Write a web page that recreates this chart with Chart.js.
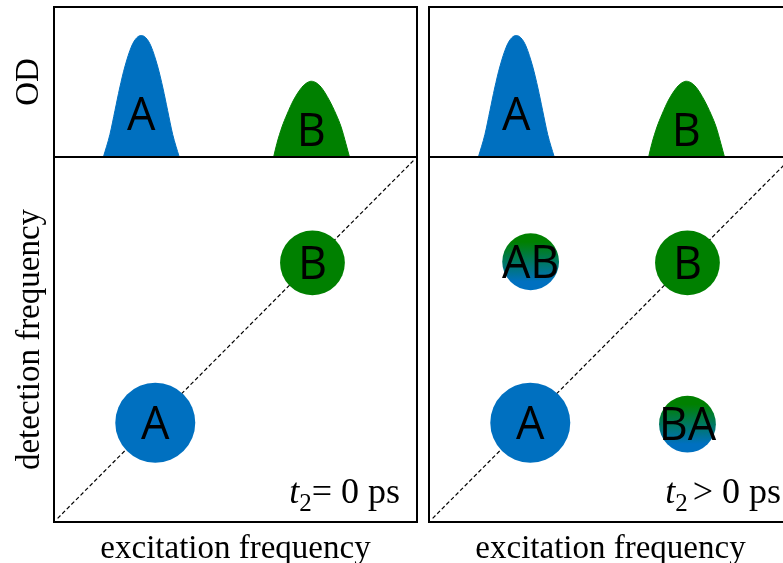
<!DOCTYPE html>
<html>
<head>
<meta charset="utf-8">
<script src="https://cdn.jsdelivr.net/npm/chart.js@4.4.1/dist/chart.umd.min.js"></script>
<style>
  html, body { margin: 0; padding: 0; background: #fff; overflow: hidden; width: 783px; height: 563px; }
  .box { position: absolute; }
</style>
</head>
<body>
<div class="box" style="left:0;top:0;width:425px;height:162px"><canvas id="odLeft"></canvas></div>
<div class="box" style="left:0;top:150px;width:425px;height:430px"><canvas id="mapLeft"></canvas></div>
<div class="box" style="left:420px;top:0;width:380px;height:162px"><canvas id="odRight"></canvas></div>
<div class="box" style="left:420px;top:150px;width:380px;height:430px"><canvas id="mapRight"></canvas></div>
<script>
// ---- linear absorption (OD) spectra: excitation frequency vs OD ----
const peakNames = ['A', 'B'];
const odAx = [13.6, 15.4, 16.8, 18.1, 19.5, 21.4, 22.8, 24.05, 25.3, 26.7, 28.6, 30.0, 31.3, 32.7, 34.5];
const odAy = [0, 0.15, 0.31, 0.46, 0.60, 0.74, 0.795, 0.81, 0.795, 0.74, 0.60, 0.46, 0.31, 0.15, 0];
const odBx = [60.5, 61.4, 62.8, 64.2, 66.0, 68.3, 69.7, 70.9, 72.2, 73.6, 75.8, 77.7, 79.1, 80.4, 81.4];
const odBy = [0, 0.09, 0.20, 0.285, 0.38, 0.465, 0.495, 0.505, 0.495, 0.465, 0.38, 0.285, 0.20, 0.09, 0];

// ---- 2D spectra: diagonal peaks (excitation, detection, relative amplitude) ----
const diagNames = ['A', 'B'];
const diagExc = [27.9, 71.2];
const diagDet = [27.2, 71.0];
const diagAmp = [1.0, 0.81];

// ---- cross peaks that grow in at t2 > 0 ----
const crossNames = ['AB', 'BA'];
const crossExc = [28.0, 71.2];
const crossDet = [71.3, 26.8];
const crossAmp = [0.71, 0.71];

// diagonal reference line (excitation = detection)
const diagonalLine = [1, 99];

// waiting time t2 for the two panels: relation and value
const delayRelation = ['=', '>'];
const delayValue = ['0 ps', '0 ps'];

const BLUE = '#0070C0';
const GREEN = '#008000';
const peakColors = { A: BLUE, B: GREEN };
const RADIUS_PX = 40;       // bubble radius for amplitude 1
const SERIF = "'Liberation Serif', 'Times New Roman', serif";
const SANS = "'Open Sans', 'Noto Sans', sans-serif";
const TITLE_FONT = { family: SERIF, size: 33 };

// black frame round each plot area
const framePlugin = {
  id: 'frame',
  afterDraw(chart) {
    const { ctx, chartArea: a } = chart;
    ctx.save();
    ctx.strokeStyle = '#000';
    ctx.lineWidth = 2;
    ctx.strokeRect(a.left, a.top, a.right - a.left, a.bottom - a.top);
    ctx.restore();
  }
};

// letter inside each OD band, placed at a fraction of the band height
const bandLabelPlugin = {
  id: 'bandLabels',
  afterDatasetsDraw(chart) {
    const { ctx, scales } = chart;
    ctx.save();
    ctx.fillStyle = '#000';
    ctx.font = '45px ' + SANS;
    ctx.textAlign = 'center';
    ctx.textBaseline = 'alphabetic';
    chart.data.datasets.forEach(ds => {
      let top = ds.data[0];
      ds.data.forEach(p => { if (p.y > top.y) top = p; });
      const x = scales.x.getPixelForValue(top.x);
      const y = scales.y.getPixelForValue(top.y * 0.35);
      ctx.fillText(ds.label, x, y + 16);
    });
    ctx.restore();
  }
};

// names written on top of each 2D peak
const peakLabelPlugin = {
  id: 'peakLabels',
  afterDatasetsDraw(chart) {
    const { ctx } = chart;
    ctx.save();
    ctx.fillStyle = '#000';
    ctx.font = '45px ' + SANS;
    ctx.textAlign = 'center';
    ctx.textBaseline = 'alphabetic';
    chart.data.datasets.forEach((ds, i) => {
      if (ds.type === 'line') return;
      chart.getDatasetMeta(i).data.forEach(el => {
        ctx.fillText(ds.label, el.x, el.y + 16);
      });
    });
    ctx.restore();
  }
};

// "t2 = 0 ps" style waiting-time label in the lower right corner
const delayPlugin = {
  id: 'delay',
  afterDraw(chart, args, opts) {
    const { ctx, chartArea: a } = chart;
    const main = '36px ' + SERIF, ital = 'italic 36px ' + SERIF, sub = '25px ' + SERIF;
    ctx.save();
    ctx.fillStyle = '#000';
    ctx.textBaseline = 'alphabetic';
    ctx.font = ital; const wT = ctx.measureText('t').width;
    ctx.font = sub; const w2 = ctx.measureText('2').width;
    ctx.font = main;
    const rest = opts.relation + ' ' + opts.value;
    const wRest = ctx.measureText(rest).width;
    const lead = opts.relation === '=' ? 0 : 5;
    let x = a.right - opts.inset - (wT + w2 + lead + wRest);
    const y = a.bottom - 19;
    ctx.font = ital; ctx.fillText('t', x, y); x += wT;
    ctx.font = sub; ctx.fillText('2', x, y + 8); x += w2 + lead;
    ctx.font = main; ctx.fillText(rest, x, y);
    ctx.restore();
  }
};

function toPoints(xs, ys) { return xs.map((x, i) => ({ x, y: ys[i] })); }

function hiddenAxis(extra) {
  return Object.assign({
    type: 'linear',
    ticks: { display: false },
    grid: { display: false },
    border: { display: false }
  }, extra);
}

const baseOptions = {
  responsive: true,
  maintainAspectRatio: false,
  animation: false,
  events: [],
  devicePixelRatio: 1
};

function odChart(id, withTitle, padLeft) {
  return new Chart(document.getElementById(id), {
    type: 'line',
    data: {
      datasets: [
        { label: peakNames[0], data: toPoints(odAx, odAy) },
        { label: peakNames[1], data: toPoints(odBx, odBy) }
      ].map(ds => Object.assign(ds, {
        backgroundColor: peakColors[ds.label],
        borderColor: peakColors[ds.label],
        borderWidth: 1,
        fill: 'origin',
        pointRadius: 0,
        cubicInterpolationMode: 'monotone'
      }))
    },
    options: Object.assign({}, baseOptions, {
      layout: { autoPadding: false, padding: { left: padLeft, top: 7, right: 8, bottom: 5 } },
      plugins: { legend: { display: false }, tooltip: { enabled: false } },
      scales: {
        x: hiddenAxis({ display: false, min: 0, max: 100 }),
        y: withTitle
          ? hiddenAxis({
              min: 0, max: 1,
              title: { display: true, text: 'OD', color: '#000', font: TITLE_FONT, padding: { top: 10, bottom: 0 } },
              afterFit: s => { s.width = 54; }
            })
          : hiddenAxis({ display: false, min: 0, max: 1 })
      }
    }),
    plugins: [bandLabelPlugin, framePlugin]
  });
}

// cross peaks blend from green (top) into blue (bottom)
function crossFill(c) {
  const raw = c.raw;
  const sy = c.chart.scales && c.chart.scales.y;
  if (!raw || !sy) return BLUE;
  const cy = sy.getPixelForValue(raw.y);
  if (!isFinite(cy) || !isFinite(raw.r)) return BLUE;
  const g = c.chart.ctx.createLinearGradient(0, cy - raw.r, 0, cy + raw.r);
  g.addColorStop(0.15, GREEN);
  g.addColorStop(0.85, BLUE);
  return g;
}

function mapChart(id, withTitle, padLeft, showCross, panel, inset) {
  const datasets = [];
  diagNames.forEach((n, i) => datasets.push({
    label: n,
    data: [{ x: diagExc[i], y: diagDet[i], r: diagAmp[i] * RADIUS_PX }],
    backgroundColor: peakColors[n],
    borderWidth: 0,
    order: 1
  }));
  if (showCross) {
    crossNames.forEach((n, i) => datasets.push({
      label: n,
      data: [{ x: crossExc[i], y: crossDet[i], r: crossAmp[i] * RADIUS_PX }],
      backgroundColor: crossFill,
      borderWidth: 0,
      order: 1
    }));
  }
  datasets.push({
    type: 'line',
    label: 'diagonal',
    data: diagonalLine.map(v => ({ x: v, y: v })),
    borderColor: '#000',
    borderWidth: 1.2,
    borderDash: [4, 2.5],
    pointRadius: 0,
    fill: false,
    order: 10
  });
  return new Chart(document.getElementById(id), {
    type: 'bubble',
    data: { datasets },
    options: Object.assign({}, baseOptions, {
      layout: { autoPadding: false, padding: { left: padLeft, top: 7, right: 8, bottom: 0 } },
      plugins: {
        legend: { display: false },
        tooltip: { enabled: false },
        delay: { relation: delayRelation[panel], value: delayValue[panel], inset }
      },
      scales: {
        x: hiddenAxis({
          min: 0, max: 100,
          title: { display: true, text: 'excitation frequency', color: '#000', font: TITLE_FONT, padding: { top: 0, bottom: 11 } },
          afterFit: s => { s.height = 58; }
        }),
        y: withTitle
          ? hiddenAxis({
              min: 0, max: 100,
              title: { display: true, text: 'detection frequency', color: '#000', font: TITLE_FONT, padding: { top: 11, bottom: 0 } },
              afterFit: s => { s.width = 54; }
            })
          : hiddenAxis({ display: false, min: 0, max: 100 })
      }
    }),
    plugins: [peakLabelPlugin, framePlugin, delayPlugin]
  });
}

odChart('odLeft', true, 0);
odChart('odRight', false, 9);
mapChart('mapLeft', true, 0, false, 0, 17);
mapChart('mapRight', false, 9, true, 1, 11);
</script>
</body>
</html>
